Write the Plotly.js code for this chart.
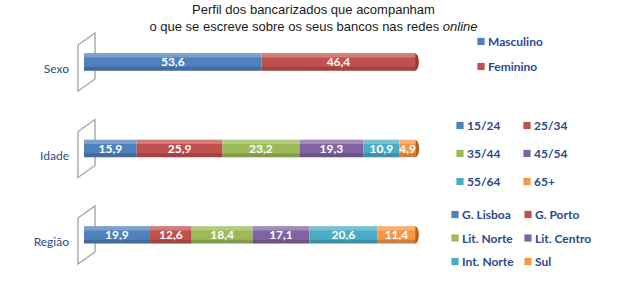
<!DOCTYPE html>
<html><head><meta charset="utf-8">
<script src="https://cdn.plot.ly/plotly-3.0.1.min.js"></script>
<style>html,body{margin:0;padding:0;background:#fff}#chart{width:627px;height:287px}</style>
</head><body><div id="chart"></div>
<script>
// ---- data ----
const categories = ['Sexo', 'Idade', 'Região'];
const sexoNames = ['Masculino', 'Feminino'];
const sexoValues = [53.6, 46.4];
const idadeNames = ['15/24', '25/34', '35/44', '45/54', '55/64', '65+'];
const idadeValues = [15.9, 25.9, 23.2, 19.3, 10.9, 4.9];
const regiaoNames = ['G. Lisboa', 'G. Porto', 'Lit. Norte', 'Lit. Centro', 'Int. Norte', 'Sul'];
const regiaoValues = [19.9, 12.6, 18.4, 17.1, 20.6, 11.4];

// ---- style ----
const palette = ['#4F81BD', '#C0504D', '#9BBB59', '#8064A2', '#4BACC6', '#F79646'];
const capColors = ['#3B6496', '#9A3B38', '#76903F', '#5F4A7C', '#31869B', '#B8611A'];
const FONT = 'Lato, "Liberation Sans Narrow", "Open Sans", sans-serif';
const navy = '#2b4a8c';

const groups = [
  {cat: categories[0], names: sexoNames, values: sexoValues, legends: ['legend', 'legend']},
  {cat: categories[1], names: idadeNames, values: idadeValues, legends: ['legend2', 'legend3']},
  {cat: categories[2], names: regiaoNames, values: regiaoValues, legends: ['legend4', 'legend5']}
];

const traces = [];
const shapes = [];
groups.forEach((g, gi) => {
  let cum = 0;
  g.values.forEach((v, i) => {
    traces.push({
      type: 'bar', orientation: 'h',
      y: [g.cat], x: [v], base: [cum],
      width: 0.2,
      name: g.names[i],
      legend: g.legends[i % 2],
      legendgroup: g.cat + i,
      marker: {color: palette[i], line: {width: 0}},
      texttemplate: '%{x:.1f}',
      textposition: 'inside', insidetextanchor: 'middle', textangle: 0,
      constraintext: 'none',
      insidetextfont: {family: FONT, size: 12, color: '#ffffff', weight: 'bold'},
      hoverinfo: 'name+x'
    });
    cum += v;
  });
  // cylinder shading derived from the total of each bar
  traces.push({type: 'bar', orientation: 'h', y: [g.cat], x: [cum], base: [0], width: 0.045, offset: -0.097,
    marker: {color: 'rgba(255,255,255,0.25)', line: {width: 0}}, showlegend: false, hoverinfo: 'skip'});
  traces.push({type: 'bar', orientation: 'h', y: [g.cat], x: [cum], base: [0], width: 0.045, offset: 0.055,
    marker: {color: 'rgba(0,0,0,0.16)', line: {width: 0}}, showlegend: false, hoverinfo: 'skip'});
  // end cap ellipse of the cylinder
  shapes.push({type: 'circle', layer: 'below', xref: 'x', yref: 'y',
    xsizemode: 'pixel', ysizemode: 'pixel', xanchor: cum, yanchor: gi,
    x0: -3.5, x1: 3.5, y0: -8.6, y1: 8.6,
    fillcolor: capColors[g.values.length - 1], line: {width: 0}});
  // side wall (3D plane at the start of the bar)
  shapes.push({type: 'path', layer: 'below', xref: 'paper', yref: 'y',
    xsizemode: 'pixel', ysizemode: 'pixel', xanchor: 0, yanchor: gi,
    path: 'M-6,17 L11,29 L11,-17 L-6,-29 Z',
    line: {color: '#a6a6a6', width: 1.4}, fillcolor: 'rgba(0,0,0,0)'});
});

function leg(xpx, ypx, gap) {
  return {x: xpx / 627, y: 1 - ypx / 287, xref: 'container', yref: 'container',
    xanchor: 'left', yanchor: 'top', orientation: 'v', traceorder: 'grouped',
    tracegroupgap: gap, bgcolor: 'rgba(0,0,0,0)', borderwidth: 0,
    font: {family: FONT, size: 12, color: navy, weight: 'bold'}, itemwidth: 30};
}

const layout = {
  width: 627, height: 287,
  margin: {l: 84, r: 200, t: 20, b: 10},
  paper_bgcolor: '#ffffff', plot_bgcolor: 'rgba(0,0,0,0)',
  separators: ',.',
  barmode: 'overlay',
  title: {
    text: 'Perfil dos bancarizados que acompanham<br>o que se escreve sobre os seus bancos nas redes <i>online</i>',
    x: 0.5, xref: 'container', xanchor: 'center',
    y: 1 - 14 / 287, yref: 'container', yanchor: 'top',
    font: {family: '"Liberation Sans", Arial, sans-serif', size: 13, color: '#1a1a1a'}
  },
  xaxis: {range: [0, 102], visible: false, fixedrange: true},
  yaxis: {
    type: 'category', categoryorder: 'array', categoryarray: categories,
    range: [2.486, -0.4855], showgrid: false, zeroline: false, showline: false,
    ticks: '', ticklabelstandoff: 14, ticklabelshift: -7,
    tickfont: {family: FONT, size: 12, color: navy}
  },
  showlegend: true,
  legend: leg(448, 27, 6),
  legend2: leg(427, 111, 9),
  legend3: leg(494, 111, 9),
  legend4: leg(422, 200, 4.5),
  legend5: leg(495, 200, 4.5),
  shapes: shapes
};

Plotly.newPlot('chart', traces, layout, {displayModeBar: false, staticPlot: true}).then(gd => {
  // smaller legend squares placed close to their text, as in the reference
  gd.querySelectorAll('.legendpoints path').forEach(p => {
    p.setAttribute('transform', 'translate(33,0) scale(0.6)');
  });
});
</script>
</body></html>
